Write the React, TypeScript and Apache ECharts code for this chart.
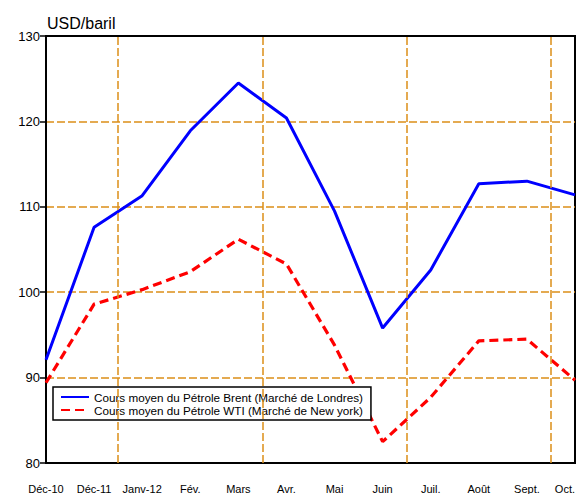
import React, { useEffect, useRef } from "react";
import * as echarts from "echarts";

const categories = ["Déc-10", "Déc-11", "Janv-12", "Fév.", "Mars", "Avr.", "Mai", "Juin", "Juil.", "Août", "Sept.", "Oct."];
const brent = [92.1, 107.6, 111.3, 118.9, 124.5, 120.4, 109.5, 95.8, 102.6, 112.7, 113.0, 111.4];
const wti = [89.4, 98.6, 100.3, 102.4, 106.2, 103.3, 93.8, 82.5, 87.7, 94.3, 94.5, 89.7];
const yTicks = [80, 90, 100, 110, 120, 130];
const verticalGridAt = [1.5, 4.5, 7.5, 10.5];

const FONT = "'Liberation Sans', Arial, sans-serif";
const GRID_COLOR = "#DB8E18";

export default function App() {
  const ref = useRef<HTMLDivElement>(null);
  useEffect(() => {
    if (!ref.current) return;
    const chart = echarts.init(ref.current, undefined, { renderer: "svg" });
    chart.setOption({
      animation: false,
      textStyle: { fontFamily: FONT },
      title: {
        text: "USD/baril",
        left: 42,
        top: 10,
        textStyle: { fontSize: 16, fontWeight: "normal", color: "#000", fontFamily: FONT },
      },
      grid: {
        left: 46,
        right: 1,
        top: 36,
        bottom: 31,
        show: true,
        borderColor: "#000",
        borderWidth: 2,
        backgroundColor: "#fff",
      },
      legend: {
        orient: "vertical",
        left: 53,
        top: 387,
        padding: [4, 8, 4, 7],
        itemGap: 1,
        itemWidth: 28,
        itemHeight: 12,
        borderColor: "#000",
        borderWidth: 1.5,
        backgroundColor: "#fff",
        itemStyle: { opacity: 0 },
        textStyle: { fontSize: 11.7, color: "#000", fontFamily: FONT },
        data: [
          "Cours moyen du Pétrole Brent (Marché de Londres)",
          "Cours moyen du Pétrole WTI (Marché de New york)",
        ],
      },
      xAxis: [
        {
          type: "category",
          data: categories,
          boundaryGap: false,
          axisLine: { lineStyle: { color: "#000", width: 2 } },
          axisTick: { show: false },
          axisLabel: {
            color: "#000",
            fontSize: 11,
            margin: 20,
            fontFamily: FONT,
            interval: 0,
            alignMaxLabel: "right",
          },
          splitLine: { show: false },
        },
        {
          type: "value",
          min: 0,
          max: categories.length - 1,
          show: false,
          splitLine: { show: false },
        },
      ],
      yAxis: {
        type: "value",
        min: yTicks[0],
        max: yTicks[yTicks.length - 1],
        interval: 10,
        axisLine: { show: true, lineStyle: { color: "#000", width: 2 } },
        axisTick: { show: true, length: 6, lineStyle: { color: "#000", width: 1.5 } },
        axisLabel: { color: "#000", fontSize: 13, margin: 6, fontFamily: FONT },
        splitLine: {
          show: true,
          lineStyle: { color: GRID_COLOR, type: [8, 3], width: 1.5 },
          showMinLine: false,
          showMaxLine: false,
        },
      },
      series: [
        {
          name: "grid-v",
          type: "line",
          xAxisIndex: 1,
          data: [],
          silent: true,
          markLine: {
            silent: true,
            symbol: "none",
            label: { show: false },
            lineStyle: { color: GRID_COLOR, type: [8, 3], width: 1.5 },
            data: verticalGridAt.map((v) => ({ xAxis: v })),
          },
          z: 1,
        },
        {
          name: "Cours moyen du Pétrole Brent (Marché de Londres)",
          type: "line",
          data: brent,
          symbol: "none",
          lineStyle: { color: "#0000FF", width: 3 },
          itemStyle: { color: "#0000FF" },
          z: 3,
        },
        {
          name: "Cours moyen du Pétrole WTI (Marché de New york)",
          type: "line",
          data: wti,
          symbol: "none",
          lineStyle: { color: "#FF0000", width: 3.2, type: [9, 5] },
          itemStyle: { color: "#FF0000" },
          z: 3,
        },
      ],
    });
    return () => chart.dispose();
  }, []);
  return <div ref={ref} style={{ width: 578, height: 494, position: "absolute", left: 0, top: 0 }} />;
}
